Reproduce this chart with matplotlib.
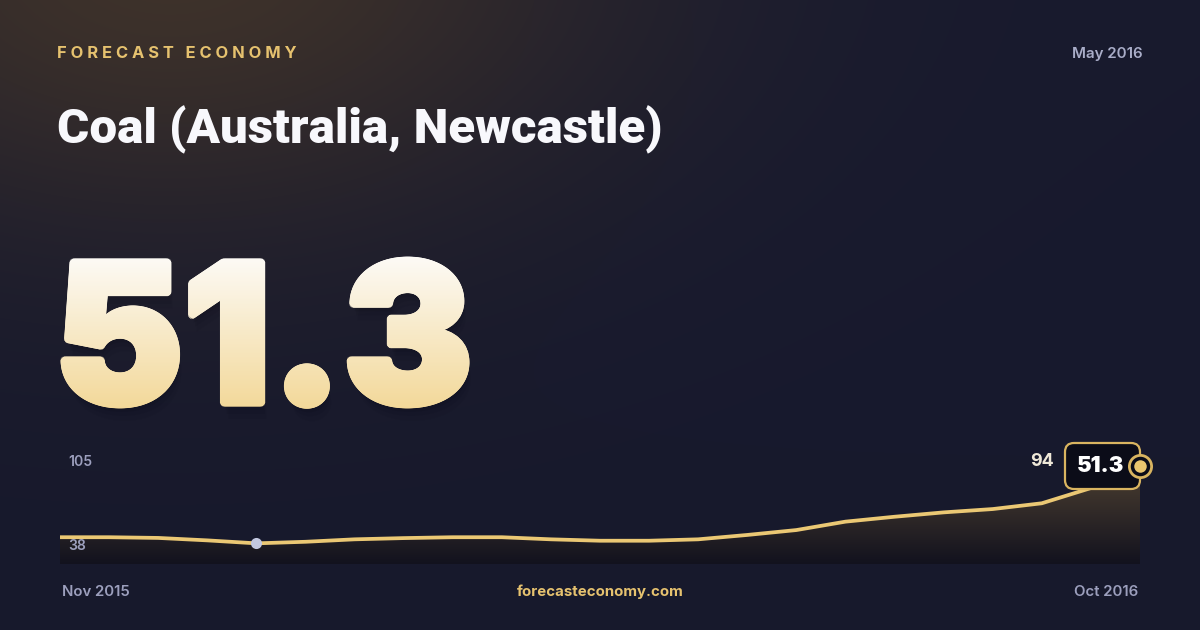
import numpy as np
import matplotlib
matplotlib.use("Agg")
import matplotlib.pyplot as plt
from matplotlib import font_manager as fm
from matplotlib.font_manager import FontProperties
from matplotlib.textpath import TextPath
from matplotlib.patches import PathPatch, FancyBboxPatch
from matplotlib.path import Path
from matplotlib.transforms import Affine2D, IdentityTransform
from matplotlib.ft2font import FT2Font

# data (half-month steps)
brand = "FORECAST ECONOMY"
title = "Coal (Australia, Newcastle)"
period = "May 2016"
headline = 51.3
start_label = "Nov 2015"
end_label = "Oct 2016"
site = "forecasteconomy.com"
y_min, y_max = 38, 105
prices = [53.3, 53.3, 52.9, 51.5, 49.8, 50.7, 52.1, 52.8, 53.3, 53.3, 52.1, 51.3,
          51.3, 52.1, 54.6, 57.4, 62.2, 65.0, 67.5, 69.4, 72.7, 81.4, 94.0]
low_idx = 4

GOLD = "#e6c26f"
LINE = "#ebc874"
GREY = "#9c9fbd"
W, H = 1200, 630


def pick_font(families, target):
    for fam in families:
        cands = [f for f in fm.fontManager.ttflist if f.name == fam and f.style == "normal"]
        if not cands:
            continue
        def w(f):
            return f.weight if isinstance(f.weight, int) else fm.weight_dict.get(f.weight, 400)
        best = min(cands, key=lambda f: abs(w(f) - target))
        if abs(w(best) - target) <= 150:
            return FontProperties(fname=best.fname)
    return FontProperties(family="DejaVu Sans", weight="bold")


f_black = pick_font(["Inter", "Lato", "Roboto", "Noto Sans", "Open Sans"], 900)
f_title = pick_font(["Roboto", "Inter"], 900)
f_bold = pick_font(["Inter", "Roboto", "Lato"], 700)
f_semi = pick_font(["Inter", "Roboto", "Lato"], 600)


def px(p):
    return p * 0.72  # pixel size -> points at dpi 100


def cap_size(fp, cap_px):
    h = TextPath((0, 0), "H", size=100, prop=fp).get_extents().height
    return cap_px / h * 100


def has_glyph(fp, code):
    try:
        return FT2Font(fp.get_file()).get_char_index(code) != 0
    except Exception:
        return False


fig = plt.figure(figsize=(12, 6.3), dpi=100)
bg = fig.add_axes([0, 0, 1, 1])
bg.set_xlim(0, W)
bg.set_ylim(H, 0)
bg.axis("off")

# background: navy with a warm glow top-left
yy, xx = np.mgrid[0:H, 0:W]
base = np.array([24, 26, 46]) / 255
warm = np.array([62, 50, 42]) / 255
d = np.hypot((xx - 170) * 0.9, (yy + 40) * 1.5)
wgt = np.exp(-(d / 400) ** 2)[..., None]
img = base * (1 - wgt) + warm * wgt
img = img * (1 - 0.03 * (yy / H))[..., None]
bg.imshow(img, extent=(0, W, H, 0), origin="upper", zorder=0, aspect="auto")

# header
sep = ""
if has_glyph(f_bold, 0x2009):
    sep = "\u2009" + ("\u200a" if has_glyph(f_bold, 0x200A) else "")
spaced = sep.join(brand) if sep else brand
bg.text(57, 53, spaced, fontproperties=f_bold, fontsize=px(cap_size(f_bold, 12)),
        color=GOLD, va="center", ha="left")
bg.text(1143, 54, period, fontproperties=f_semi, fontsize=px(cap_size(f_semi, 11)),
        color="#a9adc8", va="center", ha="right")
bg.text(57, 143, title, fontproperties=f_title, fontsize=px(cap_size(f_title, 35)),
        color="#f8f8fc", va="baseline", ha="left")

# big headline number with vertical gradient (thickened a little)
big_txt = f"{headline:.1f}"
big_px = cap_size(f_black, 141)
tp = TextPath((0, 0), big_txt, size=big_px, prop=f_black)
ext = tp.get_extents()
sx = min(1.25, 402 / ext.width)
x0, base_y = 64, 403
path = Affine2D().translate(-ext.x0, 0).scale(sx, -1).translate(x0, base_y).transform_path(tp)
for k, a in [(16, 0.05), (11, 0.07), (7, 0.09), (4, 0.1)]:
    sh = Affine2D().translate(k * 0.3, k).transform_path(path)
    bg.add_patch(PathPatch(sh, fc="#05060f", ec="none", alpha=a, zorder=2, lw=8))
bg.text(x0, base_y, big_txt, fontproperties=f_black, fontsize=px(big_px),
        color="#f7ebcb", alpha=0.0, va="baseline", ha="left", zorder=3)
top_c = np.array([253, 252, 250]) / 255
bot_c = np.array([243, 216, 152]) / 255
g = np.linspace(0, 1, 256)[:, None, None]
grad = np.repeat(top_c * (1 - g) + bot_c * g, 2, axis=1)
r = 3.5
offsets = [(0, 0)] + [(r * np.cos(t), r * np.sin(t)) for t in np.linspace(0, 2 * np.pi, 16, endpoint=False)]
for dx, dy in offsets:
    cp = PathPatch(Affine2D().translate(dx, dy).transform_path(path), fc="none", ec="none",
                   transform=bg.transData)
    bg.add_patch(cp)
    im = bg.imshow(grad, extent=(x0 - 10, x0 + 430, base_y + 8, 250), origin="upper",
                   aspect="auto", zorder=3, interpolation="bilinear")
    im.set_clip_path(cp)

# sparkline
ax = fig.add_axes([60 / W, (H - 564) / H, 1080 / W, 117.25 / H])
ax.patch.set_alpha(0)
ax.axis("off")
x = np.arange(len(prices))
ax.set_xlim(x[0], x[-1])
ax.set_ylim(y_min, y_max)

verts = np.column_stack([np.r_[x, x[::-1]], np.r_[prices, [y_min] * len(x)]])
fp = PathPatch(Path(verts), fc="none", ec="none", transform=ax.transData)
ax.add_patch(fp)
f_top = np.array([80, 66, 50]) / 255
f_bot = np.array([18, 18, 30]) / 255
gg = np.linspace(0, 1, 256)[:, None, None]
fg = np.repeat(f_top * (1 - gg) + f_bot * gg, 2, axis=1)
fim = ax.imshow(fg, extent=(x[0], x[-1], y_min, y_max - 8), origin="upper",
                aspect="auto", zorder=1, interpolation="bilinear")
fim.set_clip_path(fp)
ax.set_xlim(x[0], x[-1])
ax.set_ylim(y_min, y_max)

ax.plot(x, prices, color=LINE, lw=2.7, zorder=3, solid_capstyle="butt")
ax.plot(x[low_idx], prices[low_idx], "o", ms=8, color="#c3c8e0", mec="none", zorder=4)

# value badge at the last point
ex, ey = ax.transData.transform((x[-1], prices[-1]))
badge = FancyBboxPatch((ex - 75, ey - 23), 75, 46, boxstyle="round,pad=0,rounding_size=9",
                       fc="#0b0c18", ec="#d9b460", lw=1.6, transform=IdentityTransform(),
                       zorder=5, clip_on=False)
ax.add_patch(badge)
ax.annotate(f"{headline:.1f}", xy=(x[-1], prices[-1]), xytext=(-39, 0),
            textcoords="offset pixels", ha="center", va="center",
            fontproperties=f_black, fontsize=px(cap_size(f_black, 16)), color="white", zorder=6)
ax.plot(x[-1], prices[-1], "o", ms=16, mfc="#0b0c18", mec="#d9b460", mew=2.0,
        zorder=7, clip_on=False)
ax.plot(x[-1], prices[-1], "o", ms=9, color="#eac56e", mec="none", zorder=8, clip_on=False)
ax.annotate(f"{prices[-1]:.0f}", xy=(x[-1], prices[-1]), xytext=(-86, 4),
            textcoords="offset pixels", ha="right", va="center",
            fontproperties=f_bold, fontsize=px(cap_size(f_bold, 13)), color="#efe8d8", zorder=6)

ax.text(0.008, 0.87, f"{y_max}", transform=ax.transAxes, fontproperties=f_semi,
        fontsize=px(14), color=GREY, va="center", ha="left")
ax.text(0.008, 0.15, f"{y_min}", transform=ax.transAxes, fontproperties=f_semi,
        fontsize=px(14), color=GREY, va="center", ha="left")

# footer
bg.text(62, 592, start_label, fontproperties=f_semi, fontsize=px(15), color=GREY,
        va="center", ha="left")
bg.text(1138, 592, end_label, fontproperties=f_semi, fontsize=px(15), color=GREY,
        va="center", ha="right")
bg.text(600, 592, site, fontproperties=f_bold, fontsize=px(15), color=GOLD,
        va="center", ha="center")

fig.savefig("out.png", dpi=100)
